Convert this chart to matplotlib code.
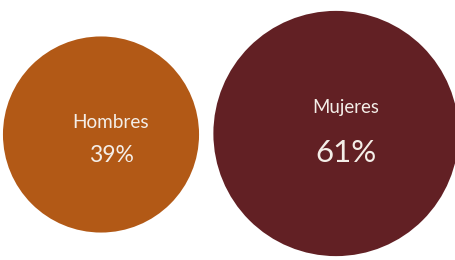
import numpy as np
import matplotlib.pyplot as plt
from matplotlib.patches import Circle

labels = ["Hombres", "Mujeres"]
shares = [39, 61]
colors = ["#B25916", "#622024"]

# layout in pixels (y goes down)
centers = [(101, 134.5), (336, 133.5)]
scale = 157.0
label_y = [128, 113]
pct_y = 162
label_dx = 10
label_size = [13.6, 13.4]
pct_size = [16.5, 22.5]
text_color = "#F4EEE8"

plt.rcParams['font.family'] = ['Lato', 'DejaVu Sans']

fig = plt.figure(figsize=(4.56, 2.60), dpi=100)
ax = fig.add_axes([0, 0, 1, 1])
ax.set_xlim(0, 456)
ax.set_ylim(260, 0)
ax.set_aspect('equal')
ax.axis('off')

for i, (lab, s) in enumerate(zip(labels, shares)):
    cx, cy = centers[i]
    r = scale * np.sqrt(s / 100)
    ax.add_patch(Circle((cx, cy), r, color=colors[i], lw=0))
    ax.text(cx + label_dx, label_y[i], lab, ha='center', va='baseline',
            color=text_color, fontsize=label_size[i])
    ax.text(cx + label_dx, pct_y, f"{s}%", ha='center', va='baseline',
            color=text_color, fontsize=pct_size[i])

fig.savefig("out.png", dpi=100)
